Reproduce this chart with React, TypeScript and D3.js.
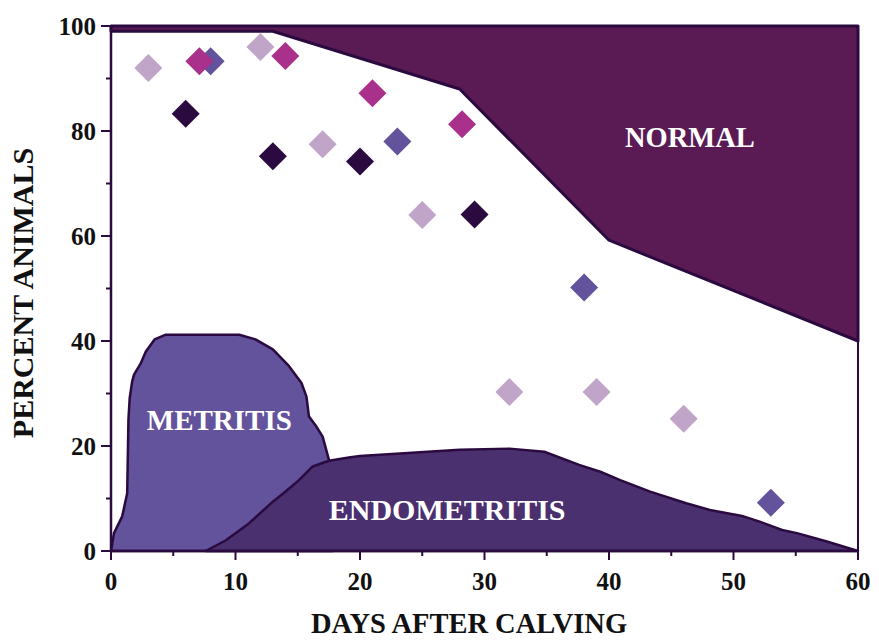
import React from "react";
import * as d3 from "d3";

const xTicks = [0, 10, 20, 30, 40, 50, 60];
const yTicks = [0, 20, 40, 60, 80, 100];
const xMinor = [5, 15, 25, 35, 45, 55];
const yMinor = [10, 30, 50, 70, 90];

// region boundaries [day, percent]
const normalLower: [number, number][] = [
  [0, 99], [13, 99], [28, 88], [40, 59.2], [60, 40],
];
const metritisTop: [number, number][] = [
  [0, 0], [0.24, 3.4], [0.9, 6.6], [1.3, 11], [1.4, 25], [1.5, 29.1], [1.7, 32.3],
  [1.85, 33.6], [2.4, 35.8], [2.8, 38], [3.5, 40.3], [4.4, 41.2], [10.3, 41.2],
  [11.6, 40.3], [13, 38.4], [14.3, 35.2], [15.3, 32], [15.7, 29.4], [15.9, 25.6],
  [16.5, 23.7], [17, 21.8], [17.5, 17.4], [17.8, 10], [17.8, 0],
];
const endometritisTop: [number, number][] = [
  [7.6, 0], [9.2, 2], [11.1, 5.3], [13, 9.4], [14, 11.3], [15.1, 13.5], [16.2, 16.1],
  [17.5, 17.2], [19.1, 17.8], [20, 18.1], [28, 19.3], [32, 19.5], [34.8, 18.9],
  [37.6, 16.4], [39.3, 15.1], [40.9, 13.5], [43.3, 11.3], [46.2, 9.1], [48.1, 7.8],
  [50.8, 6.6], [52.1, 5.6], [53.9, 4], [55.1, 3.4], [57.5, 1.8], [60, 0],
];

// data points [day, percent]
const seriesLight: [number, number][] = [
  [3, 92], [12, 96], [17, 77.5], [25, 64], [32, 30.3], [39, 30.3], [46, 25.2],
];
const seriesMedium: [number, number][] = [
  [8, 93.3], [23, 78], [38, 50.2], [53, 9.2],
];
const seriesMagenta: [number, number][] = [
  [7.1, 93.3], [14, 94.3], [21, 87.2], [28.2, 81.3],
];
const seriesDark: [number, number][] = [
  [6, 83.3], [13, 75.2], [20, 74.2], [29.2, 64.1],
];

const W = 879, H = 640;
const X0 = 111, X1 = 858, Y0 = 551, Y1 = 26;
const dark = "#2a0a3f";
const font = "'Liberation Serif', 'Times New Roman', serif";

export default function App() {
  const x = d3.scaleLinear().domain([0, 60]).range([X0, X1]);
  const y = d3.scaleLinear().domain([0, 100]).range([Y0, Y1]);
  const line = d3.line<[number, number]>().x((d) => x(d[0])).y((d) => y(d[1]));

  const normalPath = line([[0, 100], [60, 100], ...normalLower.slice().reverse(), [0, 100]]) + "Z";
  const metritisPath = line(metritisTop) + "Z";
  const endoPath = line(endometritisTop) + "Z";

  const diamond = (d: [number, number], fill: string, i: number) => {
    const cx = x(d[0]), cy = y(d[1]), r = 14;
    return (
      <path key={fill + i} d={`M${cx},${cy - r}L${cx + r},${cy}L${cx},${cy + r}L${cx - r},${cy}Z`} fill={fill} />
    );
  };

  return (
    <svg width={W} height={H} style={{ position: "absolute", left: 0, top: 0, background: "#fff" }}>
      <rect x={X0} y={Y1} width={X1 - X0} height={Y0 - Y1} fill="none" stroke={dark} strokeWidth={2} />
      <path d={metritisPath} fill="#63529c" stroke={dark} strokeWidth={2.5} strokeLinejoin="round" />
      <path d={endoPath} fill="#4b306f" stroke={dark} strokeWidth={2.5} strokeLinejoin="round" />
      <path d={normalPath} fill="#5a1b55" stroke={dark} strokeWidth={3} strokeLinejoin="round" />

      {seriesLight.map((d, i) => diamond(d, "#c1a5c9", i))}
      {seriesMedium.map((d, i) => diamond(d, "#63529c", i))}
      {seriesMagenta.map((d, i) => diamond(d, "#aa318b", i))}
      {seriesDark.map((d, i) => diamond(d, "#2a0a3f", i))}

      <text x={x(46.5)} y={y(77)} fill="#fff" fontFamily={font} fontWeight="bold" fontSize={28.5} textAnchor="middle">NORMAL</text>
      <text x={x(8.7)} y={y(23)} fill="#fff" fontFamily={font} fontWeight="bold" fontSize={29} textAnchor="middle">METRITIS</text>
      <text x={x(27)} y={y(5.9)} fill="#fff" fontFamily={font} fontWeight="bold" fontSize={30} textAnchor="middle">ENDOMETRITIS</text>

      {/* axes */}
      <line x1={X0} x2={X0} y1={Y1} y2={Y0 + 1} stroke={dark} strokeWidth={2.5} />
      <line x1={X0 - 1} x2={X1 + 1} y1={Y0} y2={Y0} stroke={dark} strokeWidth={2.5} />
      {xTicks.map((t) => (
        <g key={"xt" + t}>
          <line x1={x(t)} x2={x(t)} y1={Y0} y2={Y0 + 9} stroke={dark} strokeWidth={2} />
          <text x={x(t)} y={Y0 + 39} fontFamily={font} fontWeight="bold" fontSize={25} textAnchor="middle" fill="#111">{t}</text>
        </g>
      ))}
      {xMinor.map((t) => (
        <line key={"xm" + t} x1={x(t)} x2={x(t)} y1={Y0} y2={Y0 + 5} stroke={dark} strokeWidth={2} />
      ))}
      {yTicks.map((t) => (
        <g key={"yt" + t}>
          <line x1={X0 - 10} x2={X0} y1={y(t)} y2={y(t)} stroke={dark} strokeWidth={2} />
          <text x={X0 - 15} y={y(t) + 9} fontFamily={font} fontWeight="bold" fontSize={25} textAnchor="end" fill="#111">{t}</text>
        </g>
      ))}
      {yMinor.map((t) => (
        <line key={"ym" + t} x1={X0 - 5} x2={X0} y1={y(t)} y2={y(t)} stroke={dark} strokeWidth={2} />
      ))}
      <text x={469} y={633} fontFamily={font} fontWeight="bold" fontSize={28.5} textAnchor="middle" fill="#111">DAYS AFTER CALVING</text>
      <text transform={`translate(33,${293}) rotate(-90)`} fontFamily={font} fontWeight="bold" fontSize={30} textAnchor="middle" fill="#111">PERCENT ANIMALS</text>
    </svg>
  );
}
